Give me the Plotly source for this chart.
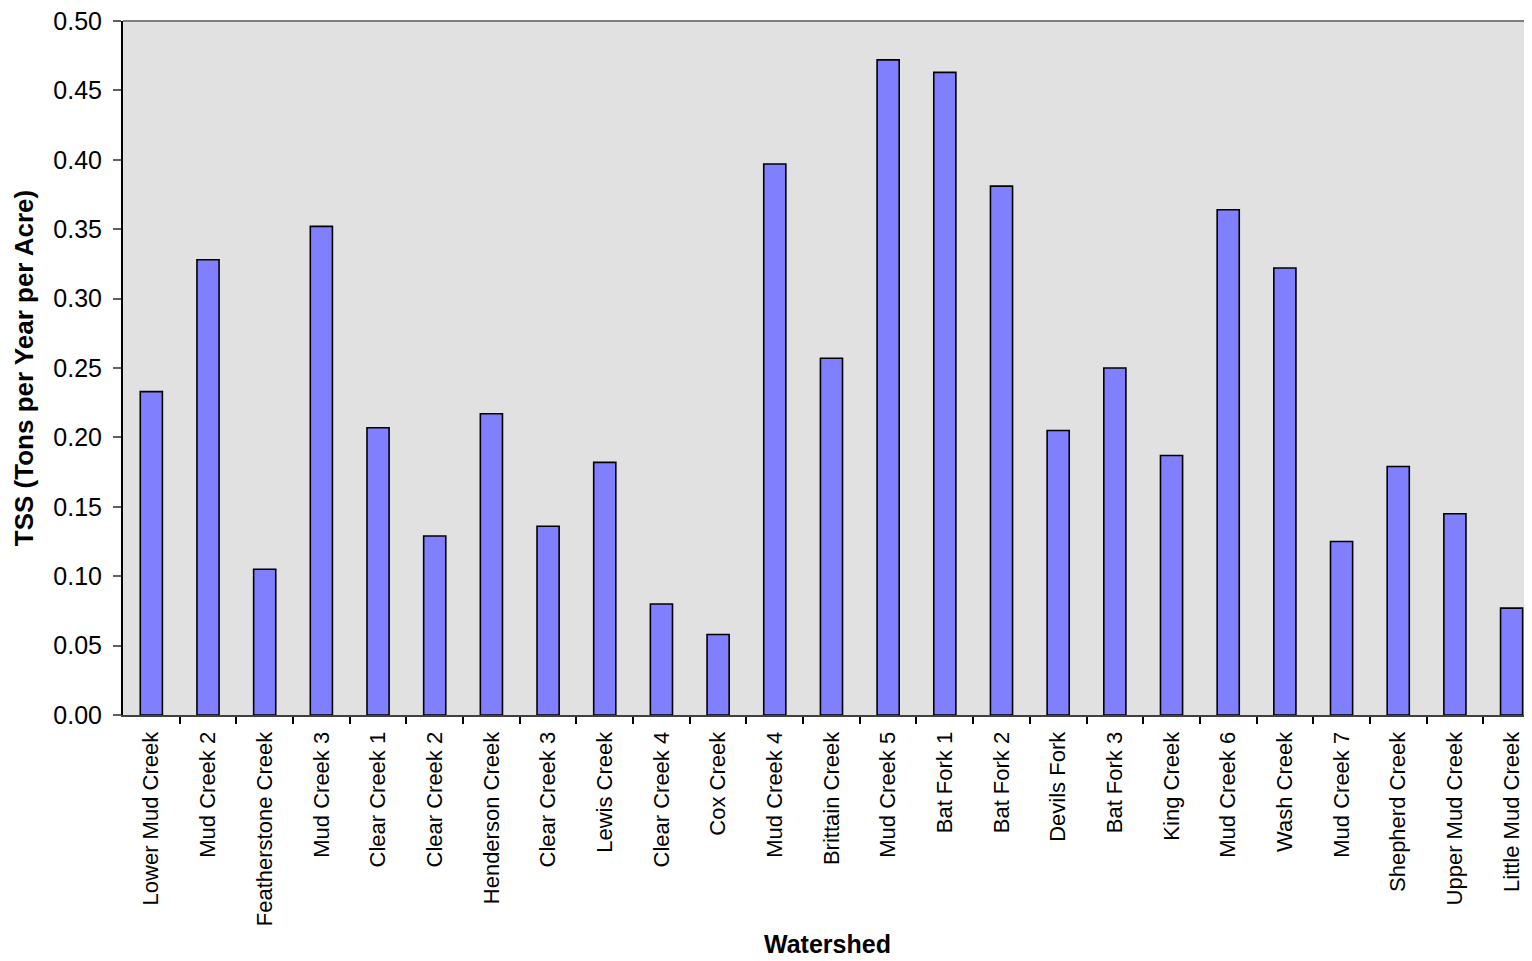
import plotly.graph_objects as go

watersheds = ["Lower Mud Creek", "Mud Creek 2", "Featherstone Creek", "Mud Creek 3",
              "Clear Creek 1", "Clear Creek 2", "Henderson Creek", "Clear Creek 3",
              "Lewis Creek", "Clear Creek 4", "Cox Creek", "Mud Creek 4",
              "Brittain Creek", "Mud Creek 5", "Bat Fork 1", "Bat Fork 2",
              "Devils Fork", "Bat Fork 3", "King Creek", "Mud Creek 6",
              "Wash Creek", "Mud Creek 7", "Shepherd Creek", "Upper Mud Creek",
              "Little Mud Creek"]
tss = [0.233, 0.328, 0.105, 0.352, 0.207, 0.129, 0.217, 0.136, 0.182, 0.080,
       0.058, 0.397, 0.257, 0.472, 0.463, 0.381, 0.205, 0.250, 0.187, 0.364,
       0.322, 0.125, 0.179, 0.145, 0.077]
y_ticks = [0.0, 0.05, 0.10, 0.15, 0.20, 0.25, 0.30, 0.35, 0.40, 0.45, 0.50]

fig = go.Figure()
fig.add_trace(go.Bar(
    x=list(range(len(watersheds))), y=tss, width=0.39,
    marker=dict(color="#8080FF", line=dict(color="#000000", width=1.6)),
))

# page body has an 8px margin: size/margins compensate for it
fig.update_layout(
    width=1524, height=953,
    margin=dict(l=115, r=0, t=13, b=246),
    paper_bgcolor="white", plot_bgcolor="#E1E1E1",
    showlegend=False,
    font=dict(family="Arial, Liberation Sans, sans-serif", color="black"),
    shapes=[dict(type="line", xref="paper", yref="paper", x0=0, x1=1, y0=1, y1=1,
                 line=dict(color="#808080", width=2))],
)
fig.update_xaxes(
    tickmode="array", tickvals=list(range(len(watersheds))), ticktext=watersheds,
    tickangle=-90, tickfont=dict(size=22),
    range=[-0.5, 24.36], showgrid=False, zeroline=False,
    showline=True, linecolor="#404040", linewidth=2,
    ticks="", ticklabelstandoff=6,
    title=dict(text="<b>Watershed</b>", font=dict(size=25), standoff=10),
)
fig.update_yaxes(
    range=[0, 0.5], tickvals=y_ticks, ticktext=[f"{v:.2f}" for v in y_ticks],
    tickfont=dict(size=25), showgrid=False, zeroline=False,
    showline=True, linecolor="#000000", linewidth=2,
    ticks="outside", ticklen=8, tickcolor="#606060", tickwidth=2,
    ticklabelstandoff=6, ticklabeloverflow="allow",
    title=dict(text="<b>TSS (Tons per Year per Acre)</b>", font=dict(size=26), standoff=12),
)

# category boundary tick marks via minor ticks
fig.update_xaxes(minor=dict(tickvals=[i + 0.5 for i in range(len(watersheds) - 1)],
                            ticks="outside", ticklen=7, tickcolor="#000000", tickwidth=1.5))

fig.write_html("out.html")
